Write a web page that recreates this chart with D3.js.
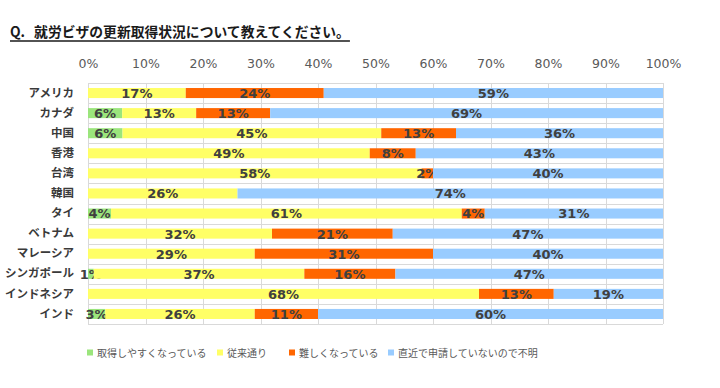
<!DOCTYPE html>
<html>
<head>
  <meta charset="utf-8">
  <script src="https://d3js.org/d3.v7.min.js"></script>
  <style type="text/css">
    body { margin: 0; background: #fff; }
    svg { display: block; }
  </style>
</head>
<body>
<script type="text/javascript">
  "use strict";

  // --- data ---
  var countries = ["アメリカ", "カナダ", "中国", "香港", "台湾", "韓国", "タイ",
                   "ベトナム", "マレーシア", "シンガポール", "インドネシア", "インド"];
  var seriesNames = ["取得しやすくなっている", "従来通り", "難しくなっている", "直近で申請していないので不明"];
  var easier  = [0, 6, 6, 0, 0, 0, 4, 0, 0, 1, 0, 3];
  var same    = [17, 13, 45, 49, 58, 26, 61, 32, 29, 37, 68, 26];
  var harder  = [24, 13, 13, 8, 2, 0, 4, 21, 31, 16, 13, 11];
  var unknown = [59, 69, 36, 43, 40, 74, 31, 47, 40, 47, 19, 60];
  var tickValues = [0, 0.1, 0.2, 0.3, 0.4, 0.5, 0.6, 0.7, 0.8, 0.9, 1];
  var colors = ["#9be57c", "#ffff66", "#ff6600", "#99ccff"];
  var legendX = [87, 217, 289, 388];

  var width = 720, height = 388;
  var margin = {top: 83, left: 88, right: 57, bottom: 64};

  var rows = countries.map(function (c, i) {
    return {country: c, s0: easier[i], s1: same[i], s2: harder[i], s3: unknown[i]};
  });
  var keys = ["s0", "s1", "s2", "s3"];

  // 100% stacked, like the original
  var stack = d3.stack().keys(keys).offset(d3.stackOffsetExpand);
  var layers = stack(rows);

  var svg = d3.select("body").append("svg")
      .attr("width", width)
      .attr("height", height);

  // title, underline drawn by hand so the gap after "Q." stays underlined
  var title = svg.append("text")
      .attr("x", 10)
      .attr("y", 37)
      .style("font-family", "'Noto Sans CJK JP', sans-serif")
      .style("font-size", "13.8px")
      .style("font-weight", "bold")
      .style("fill", "#1a1a1a");
  title.append("tspan").text("Q.");
  title.append("tspan").attr("dx", 9).text("就労ビザの更新取得状況について教えてください。");
  var tb = title.node().getBBox();
  svg.append("line")
      .attr("x1", 10).attr("x2", tb.x + tb.width)
      .attr("y1", 41).attr("y2", 41)
      .attr("stroke", "#1a1a1a")
      .attr("stroke-width", 1.3);

  var x = d3.scaleLinear().domain([0, 1]).range([margin.left, width - margin.right]);
  var y = d3.scaleBand().domain(countries)
      .range([margin.top, height - margin.bottom])
      .paddingInner(0.5).paddingOuter(0.25);

  var grid = svg.append("g").attr("class", "grid");
  var step = y.step();

  // horizontal gridlines at band boundaries
  grid.selectAll("line.h")
    .data(d3.range(countries.length + 1))
    .enter().append("line")
      .attr("class", "h")
      .attr("x1", margin.left)
      .attr("x2", width - margin.right)
      .attr("y1", function (i) { return Math.round(margin.top + i * step) + 0.5; })
      .attr("y2", function (i) { return Math.round(margin.top + i * step) + 0.5; })
      .attr("stroke", "#d9d9d9")
      .attr("stroke-width", 1);

  // vertical gridlines
  grid.selectAll("line.v")
    .data(tickValues)
    .enter().append("line")
      .attr("class", "v")
      .attr("x1", function (d) { return Math.round(x(d)) + 0.5; })
      .attr("x2", function (d) { return Math.round(x(d)) + 0.5; })
      .attr("y1", margin.top)
      .attr("y2", height - margin.bottom)
      .attr("stroke", "#d9d9d9")
      .attr("stroke-width", 1);

  // top axis
  var xAxis = d3.axisTop(x).tickValues(tickValues).tickFormat(d3.format(".0%")).tickSize(0);
  svg.append("g")
      .attr("transform", "translate(0," + (margin.top - 12) + ")")
      .call(xAxis)
      .call(function (g) { g.select(".domain").remove(); })
      .selectAll("text")
        .style("font-family", "'DejaVu Sans', sans-serif")
        .style("font-size", "12.5px")
        .style("fill", "#595959");

  // category axis
  var yAxis = d3.axisLeft(y).tickSize(0).tickPadding(14);
  svg.append("g")
      .attr("transform", "translate(" + margin.left + ",0)")
      .call(yAxis)
      .call(function (g) { g.select(".domain").remove(); })
      .selectAll("text")
        .style("font-family", "'Noto Sans CJK JP', sans-serif")
        .style("font-size", "11.5px")
        .style("font-weight", "bold")
        .style("fill", "#3a3a3a");

  // bars
  var layer = svg.selectAll("g.layer")
    .data(layers)
    .enter().append("g")
      .attr("class", "layer")
      .attr("fill", function (d, i) { return colors[i]; });

  layer.selectAll("rect")
    .data(function (d) { return d; })
    .enter().append("rect")
      .attr("x", function (d) { return x(d[0]); })
      .attr("width", function (d) { return x(d[1]) - x(d[0]); })
      .attr("y", function (d) { return y(d.data.country); })
      .attr("height", y.bandwidth());

  // value labels (zero segments get none)
  layer.selectAll("text")
    .data(function (d) {
      var k = d.key;
      return d.map(function (p) { return {p: p, v: p.data[k]}; })
              .filter(function (o) { return o.v > 0; });
    })
    .enter().append("text")
      .attr("x", function (o) { return (x(o.p[0]) + x(o.p[1])) / 2; })
      .attr("y", function (o) { return y(o.p.data.country) + y.bandwidth() / 2; })
      .attr("dy", "0.38em")
      .attr("text-anchor", "middle")
      .style("font-family", "'DejaVu Sans', sans-serif")
      .style("font-size", "13px")
      .style("font-weight", "bold")
      .style("fill", "#404040")
      .text(function (o) { return o.v + "%"; });

  // legend
  var legend = svg.append("g").attr("class", "legend");
  var item = legend.selectAll("g")
    .data(seriesNames)
    .enter().append("g")
      .attr("transform", function (d, i) { return "translate(" + legendX[i] + ",353)"; });
  item.append("rect")
      .attr("x", 0).attr("y", -3.5)
      .attr("width", 6).attr("height", 6)
      .attr("fill", function (d, i) { return colors[i]; });
  item.append("text")
      .attr("x", 10)
      .attr("dy", "0.35em")
      .style("font-family", "'Noto Sans CJK JP', sans-serif")
      .style("font-size", "10px")
      .style("fill", "#595959")
      .text(function (d) { return d; });
</script>
</body>
</html>
